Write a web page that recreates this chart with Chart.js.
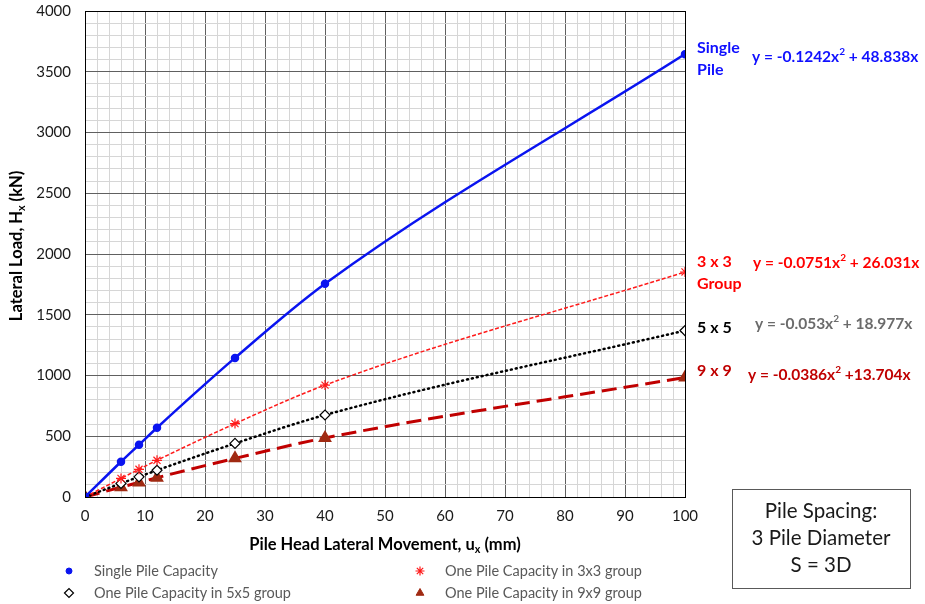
<!DOCTYPE html>
<html>
<head>
<meta charset="utf-8">
<script src="https://cdn.jsdelivr.net/npm/chart.js@4.4.0/dist/chart.umd.min.js"></script>
<style>
  html, body { margin: 0; padding: 0; background: #fff; }
</style>
</head>
<body>
<canvas id="chart" width="925" height="604"></canvas>
<script>
'use strict';

// pile head movement (mm) at which each capacity was computed
const movement = [0, 6, 9, 12, 25, 40, 100];

// lateral load (kN)
const singlePile = [0, 290, 430, 570, 1145, 1755, 3645];
const group3x3 = [0, 153, 228, 302, 604, 921, 1852];
const group5x5 = [0, 112, 166, 220, 441, 675, 1370];
const group9x9 = [0, 81, 120, 159, 318, 486, 984];

const seriesNames = [
    'Single Pile Capacity',
    'One Pile Capacity in 3x3 group',
    'One Pile Capacity in 5x5 group',
    'One Pile Capacity in 9x9 group'
];

const xTickLabels = [0, 10, 20, 30, 40, 50, 60, 70, 80, 90, 100];
const yTickLabels = [0, 500, 1000, 1500, 2000, 2500, 3000, 3500, 4000];

const FONT = 'Lato, "Open Sans", sans-serif';

function toPoints(values) {
    return movement.map((x, i) => ({ x: x, y: values[i] }));
}

function series(label, values, color, extra) {
    return Object.assign({
        label: label,
        data: toPoints(values),
        showLine: true,
        borderColor: color,
        backgroundColor: color,
        pointBorderColor: color,
        pointBackgroundColor: color,
        cubicInterpolationMode: 'monotone',
        fill: false
    }, extra);
}

const datasets = [
    series(seriesNames[0], singlePile, '#0a14f0', {
        borderWidth: 2.5, pointStyle: 'circle', pointRadius: 3
    }),
    series(seriesNames[1], group3x3, '#ff1a1a', {
        borderWidth: 1.5, borderDash: [4, 2], pointStyle: 'star', pointRadius: 5,
        pointBorderWidth: 1.2
    }),
    series(seriesNames[2], group5x5, '#000000', {
        borderWidth: 2.5, borderDash: [1, 4], borderCapStyle: 'round',
        pointStyle: 'rectRot', pointRadius: 5, pointBackgroundColor: '#ffffff',
        pointBorderWidth: 1.2
    }),
    series(seriesNames[3], group9x9, '#c00000', {
        borderWidth: 3, borderDash: [15, 7], pointStyle: 'triangle', pointRadius: 5,
        pointBackgroundColor: '#a02a12', pointBorderColor: '#a02a12'
    })
];

// text with super/subscript pieces
function drawRich(ctx, parts, x, y, size, align) {
    let total = 0;
    parts.forEach(p => {
        ctx.font = 'bold ' + (p.s ? size * 0.65 : size) + 'px ' + FONT;
        p.w = ctx.measureText(p.t).width;
        total += p.w;
    });
    let cx = align === 'center' ? x - total / 2 : x;
    parts.forEach(p => {
        ctx.font = 'bold ' + (p.s ? size * 0.65 : size) + 'px ' + FONT;
        let dy = p.s === 'sup' ? -size * 0.35 : (p.s === 'sub' ? size * 0.3 : 0);
        ctx.fillText(p.t, cx, y + dy);
        cx += p.w;
    });
}

const extrasPlugin = {
    id: 'extras',
    afterDraw(chart) {
        const ctx = chart.ctx;
        const area = chart.chartArea;
        ctx.save();

        // plot border
        ctx.strokeStyle = '#000';
        ctx.lineWidth = 1;
        ctx.strokeRect(area.left + 0.5, area.top + 0.5, area.right - area.left, area.bottom - area.top);

        ctx.textBaseline = 'middle';
        ctx.textAlign = 'left';

        // axis titles
        ctx.fillStyle = '#000';
        drawRich(ctx, [{ t: 'Pile Head Lateral Movement, u' }, { t: 'x', s: 'sub' }, { t: ' (mm)' }],
            385, 545, 16.5, 'center');
        ctx.save();
        ctx.translate(17, 246);
        ctx.rotate(-Math.PI / 2);
        drawRich(ctx, [{ t: 'Lateral Load, H' }, { t: 'x', s: 'sub' }, { t: ' (kN)' }], 0, 0, 16.5, 'center');
        ctx.restore();

        // series labels and trend equations
        const notes = [
            { c: '#1010ff', lines: [['Single', 48], ['Pile', 70]], eq: ['y = -0.1242x', ' + 48.838x'], ex: 752, ey: 57, ec: '#1010ff' },
            { c: '#ff0000', lines: [['3 x 3', 262], ['Group', 284]], eq: ['y = -0.0751x', ' + 26.031x'], ex: 753, ey: 263, ec: '#ff0000' },
            { c: '#000000', lines: [['5 x 5', 328]], eq: ['y = -0.053x', ' + 18.977x'], ex: 755, ey: 324, ec: '#6b6b6b' },
            { c: '#c00000', lines: [['9 x 9', 371]], eq: ['y = -0.0386x', ' +13.704x'], ex: 748, ey: 375, ec: '#c00000' }
        ];
        notes.forEach(n => {
            ctx.fillStyle = n.c;
            ctx.font = 'bold 16px ' + FONT;
            n.lines.forEach(l => ctx.fillText(l[0], 697, l[1]));
            ctx.fillStyle = n.ec;
            drawRich(ctx, [{ t: n.eq[0] }, { t: '2', s: 'sup' }, { t: n.eq[1] }], n.ex, n.ey, 15.5, 'left');
        });

        // legend, two columns
        const slots = [[69, 571], [420, 571], [69, 593], [420, 593]];
        chart.data.datasets.forEach((ds, i) => {
            const [mx, my] = slots[i];
            ctx.save();
            ctx.fillStyle = ds.pointBackgroundColor;
            ctx.strokeStyle = ds.pointBorderColor;
            ctx.lineWidth = ds.pointBorderWidth || 1;
            Chart.helpers.drawPoint(ctx, {
                pointStyle: ds.pointStyle,
                radius: ds.pointStyle === 'circle' ? 3 : 4.5,
                rotation: 0,
                borderWidth: ds.pointBorderWidth || 1
            }, mx, my);
            ctx.restore();
            ctx.fillStyle = '#595959';
            ctx.font = '14.5px ' + FONT;
            ctx.fillText(ds.label, mx + 25, my);
        });

        // spacing note box
        ctx.strokeStyle = '#595959';
        ctx.lineWidth = 1;
        ctx.strokeRect(732.5, 489.5, 178, 99);
        ctx.fillStyle = '#1a1a1a';
        ctx.font = '20.5px ' + FONT;
        ctx.textAlign = 'center';
        ctx.fillText('Pile Spacing:', 821, 511);
        ctx.fillText('3 Pile Diameter', 821, 538);
        ctx.fillText('S = 3D', 821, 565);

        ctx.restore();
    }
};

new Chart(document.getElementById('chart'), {
    type: 'scatter',
    data: { datasets: datasets },
    plugins: [extrasPlugin],
    options: {
        responsive: false,
        animation: false,
        layout: { padding: { left: 0, right: 240, top: 11, bottom: 0 } },
        plugins: {
            legend: { display: false },
            tooltip: { enabled: false }
        },
        scales: {
            x: {
                type: 'linear',
                min: 0,
                max: 100,
                afterFit: scale => { scale.height = 107; scale.paddingRight = 0; },
                ticks: {
                    stepSize: 2,
                    autoSkip: false,
                    maxRotation: 0,
                    padding: 10,
                    color: '#1a1a1a',
                    font: { family: FONT, size: 15 },
                    callback: v => xTickLabels.includes(v) ? String(v) : ''
                },
                grid: {
                    drawTicks: false,
                    color: c => (c.tick && c.tick.value % 10 === 0) ? '#606060' : '#d6d6d6',
                    lineWidth: 1
                },
                border: { display: true, color: '#000' }
            },
            y: {
                min: 0,
                max: 4000,
                afterFit: scale => { scale.width = 85; scale.paddingTop = 0; },
                ticks: {
                    stepSize: 100,
                    autoSkip: false,
                    padding: 14,
                    color: '#1a1a1a',
                    font: { family: FONT, size: 15 },
                    callback: v => yTickLabels.includes(v) ? String(v) : ''
                },
                grid: {
                    drawTicks: false,
                    color: c => (c.tick && c.tick.value % 500 === 0) ? '#606060' : '#d6d6d6',
                    lineWidth: 1
                },
                border: { display: true, color: '#000' }
            }
        }
    }
});
</script>
</body>
</html>
